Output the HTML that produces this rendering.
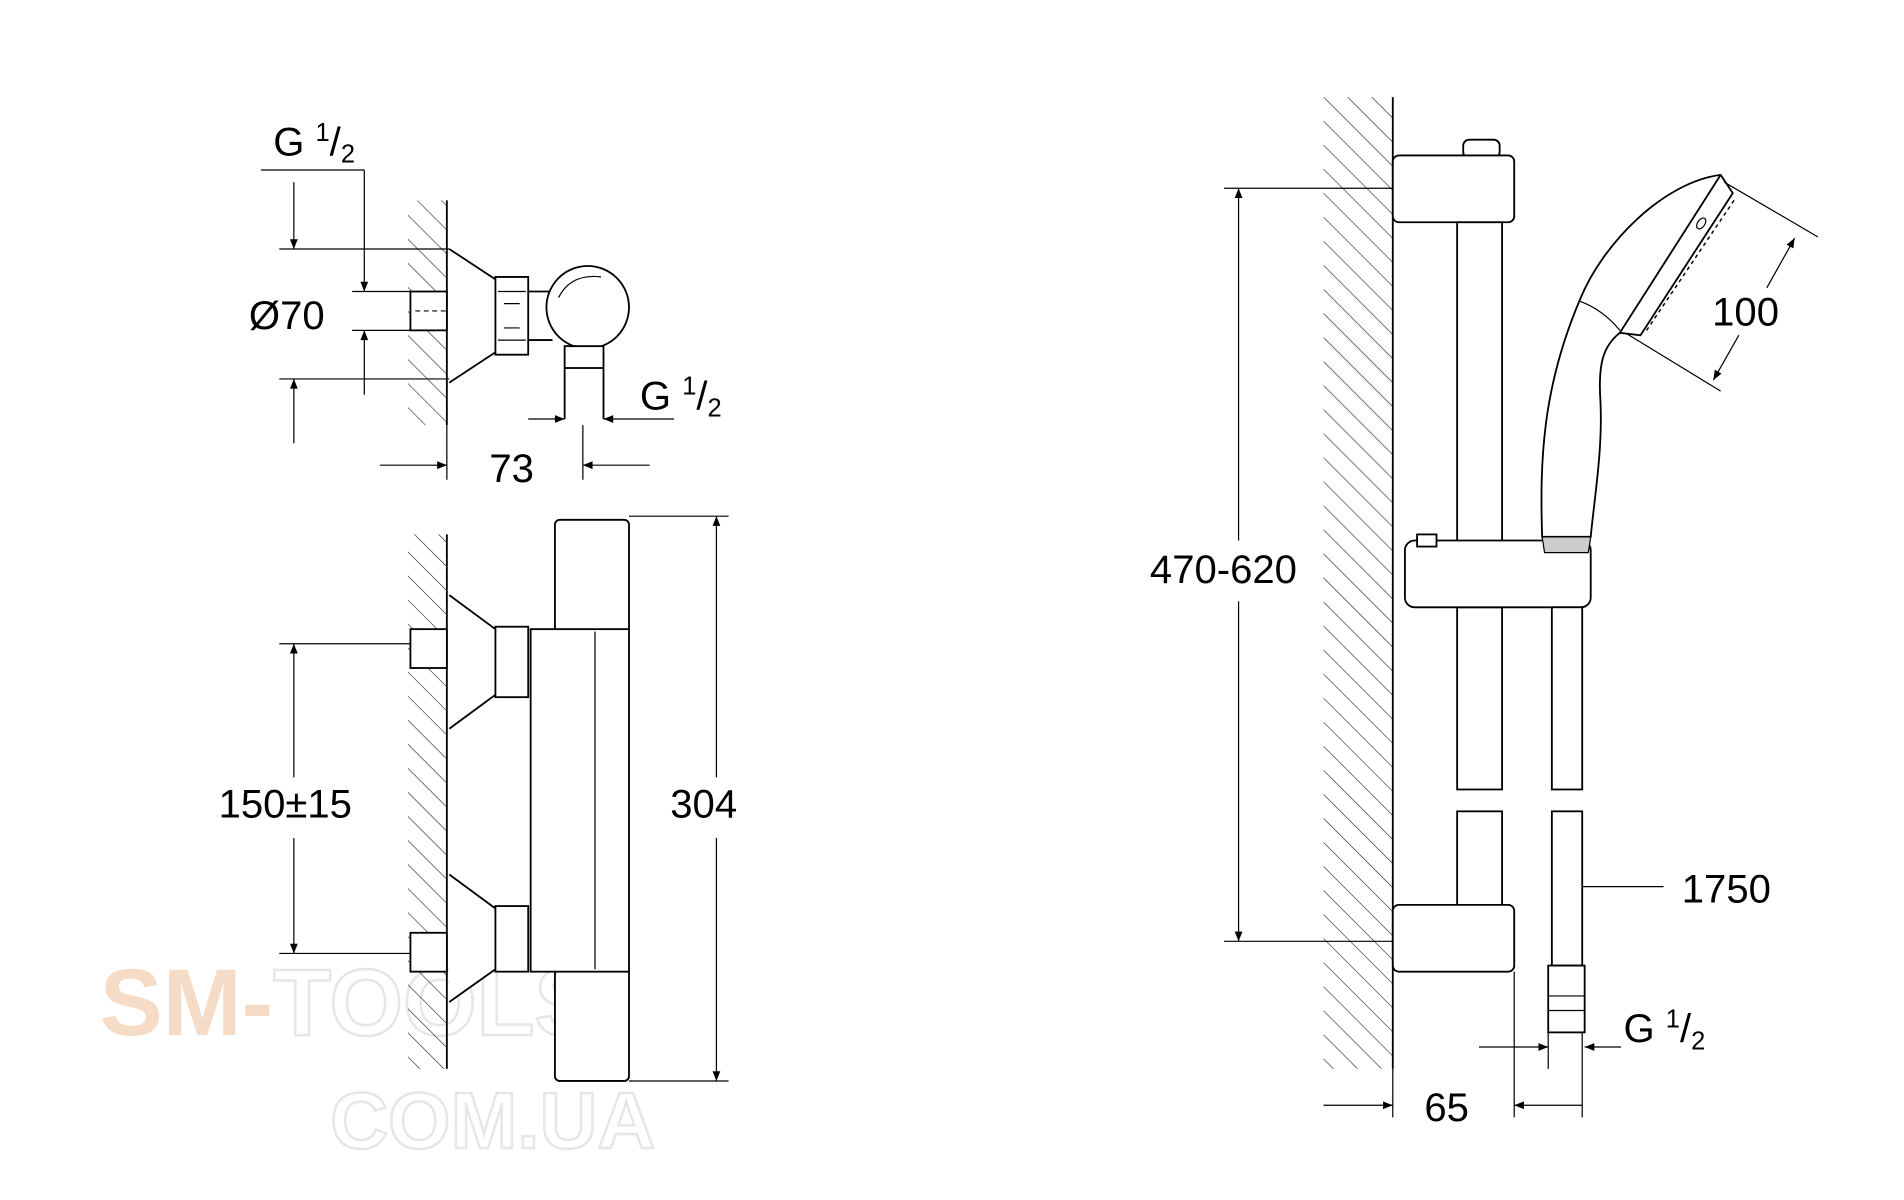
<!DOCTYPE html>
<html><head><meta charset="utf-8"><style>html,body{margin:0;padding:0;background:#fff;}svg{display:block}</style></head>
<body>
<svg width="1904" height="1200" viewBox="0 0 1568 988" preserveAspectRatio="none" xmlns="http://www.w3.org/2000/svg" font-family="Liberation Sans, sans-serif">
<defs>
<pattern id="h" width="14" height="14" patternUnits="userSpaceOnUse" patternTransform="rotate(-45)">
<line x1="0" y1="0" x2="0" y2="14" stroke="#222" stroke-width="1"/>
</pattern>
<marker id="a" viewBox="0 0 10 10" refX="10" refY="5" markerWidth="12" markerHeight="8" orient="auto-start-reverse" markerUnits="userSpaceOnUse"><path d="M0,1 L10,5 L0,9 z" fill="#000"/></marker>
</defs>
<rect width="1568" height="988" fill="#fff"/>
<!-- watermark -->
<text x="82" y="852" font-size="78" font-weight="bold" fill="#f6dcc6">SM-</text>
<text x="225" y="852" font-size="78" font-weight="bold" fill="none" stroke="#e6e6e6" stroke-width="2">TOOLS</text>
<text x="272" y="945" font-size="66" font-weight="bold" fill="none" stroke="#e6e6e6" stroke-width="2">COM.UA</text>

<g stroke="#000" stroke-width="1.5" fill="none">
<!-- LEFT TOP -->
<rect x="336" y="165" width="32" height="185" fill="url(#h)" stroke="none"/>
<line x1="368" y1="165" x2="368" y2="350"/>
<path d="M370,205 L408,230 L408,290 L370,315" fill="#fff"/>
<path d="M408,228 L435,228 L435,292 L408,292 Z" fill="#fff"/>
<path d="M410,240 L433,240 M410,280 L433,280 M415,250 L428,250 M415,270 L428,270" stroke-width="1"/>
<path d="M435,240 L455,240 M435,280 L455,280"/>
<circle cx="484" cy="253" r="34" fill="#fff"/>
<path d="M460,245 Q470,225 495,228" stroke-width="1"/>
<rect x="465" y="285" width="32" height="18" fill="#fff"/>
<line x1="465" y1="303" x2="465" y2="345"/><line x1="497" y1="303" x2="497" y2="345"/>
<rect x="338" y="240" width="30" height="32" fill="#fff"/>
<line x1="342" y1="256" x2="368" y2="256" stroke-dasharray="4,3" stroke-width="1"/>
<line x1="230" y1="205" x2="370" y2="205" stroke-width="1"/>
<line x1="230" y1="312" x2="370" y2="312" stroke-width="1"/>
<line x1="242" y1="150" x2="242" y2="205" marker-end="url(#a)" stroke-width="1"/>
<line x1="242" y1="365" x2="242" y2="312" marker-end="url(#a)" stroke-width="1"/>
<line x1="215" y1="140" x2="300" y2="140" stroke-width="1"/>
<line x1="300" y1="140" x2="300" y2="240" marker-end="url(#a)" stroke-width="1"/>
<line x1="300" y1="325" x2="300" y2="272" marker-end="url(#a)" stroke-width="1"/>
<line x1="290" y1="240" x2="338" y2="240" stroke-width="1"/>
<line x1="290" y1="272" x2="338" y2="272" stroke-width="1"/>
<line x1="368" y1="350" x2="368" y2="395" stroke-width="1"/>
<line x1="480" y1="350" x2="480" y2="395" stroke-width="1"/>
<line x1="313" y1="383" x2="368" y2="383" marker-end="url(#a)" stroke-width="1"/>
<line x1="535" y1="383" x2="480" y2="383" marker-end="url(#a)" stroke-width="1"/>
<line x1="435" y1="345" x2="465" y2="345" marker-end="url(#a)" stroke-width="1"/>
<line x1="555" y1="345" x2="497" y2="345" marker-end="url(#a)" stroke-width="1"/>

<!-- LEFT BOTTOM -->
<rect x="336" y="440" width="32" height="440" fill="url(#h)" stroke="none"/>
<line x1="368" y1="440" x2="368" y2="880"/>
<path d="M370,490 L408,518 L408,572 L370,600" fill="#fff"/>
<rect x="408" y="516" width="27" height="58" fill="#fff"/>
<path d="M370,720 L408,748 L408,798 L370,825" fill="#fff"/>
<rect x="408" y="746" width="27" height="54" fill="#fff"/>
<rect x="338" y="518" width="30" height="32" fill="#fff"/>
<rect x="338" y="768" width="30" height="32" fill="#fff"/>
<rect x="457" y="428" width="61" height="92" rx="4" fill="#fff"/>
<rect x="457" y="798" width="61" height="92" rx="4" fill="#fff"/>
<rect x="437" y="518" width="81" height="282" fill="#fff"/>
<line x1="490" y1="520" x2="490" y2="798" stroke-width="1"/>
<line x1="230" y1="530" x2="338" y2="530" stroke-width="1"/>
<line x1="230" y1="785" x2="338" y2="785" stroke-width="1"/>
<line x1="242" y1="640" x2="242" y2="530" marker-end="url(#a)" stroke-width="1"/>
<line x1="242" y1="690" x2="242" y2="785" marker-end="url(#a)" stroke-width="1"/>
<line x1="518" y1="425" x2="600" y2="425" stroke-width="1"/>
<line x1="518" y1="890" x2="600" y2="890" stroke-width="1"/>
<line x1="590" y1="640" x2="590" y2="425" marker-end="url(#a)" stroke-width="1"/>
<line x1="590" y1="690" x2="590" y2="890" marker-end="url(#a)" stroke-width="1"/>

<!-- RIGHT -->
<rect x="1090" y="80" width="57" height="800" fill="url(#h)" stroke="none"/>
<line x1="1147" y1="80" x2="1147" y2="880"/>
<rect x="1205" y="115" width="30" height="15" rx="5" fill="#fff"/>
<rect x="1147" y="128" width="100" height="55" rx="5" fill="#fff"/>
<rect x="1200" y="183" width="37" height="270" fill="#fff"/>
<rect x="1200" y="500" width="37" height="150" fill="#fff"/>
<rect x="1200" y="668" width="37" height="80" fill="#fff"/>
<rect x="1147" y="745" width="100" height="55" rx="5" fill="#fff"/>
<rect x="1157" y="445" width="153" height="55" rx="8" fill="#fff"/>
<rect x="1167" y="440" width="16" height="10" fill="#fff"/>
<rect x="1278" y="500" width="25" height="150" fill="#fff"/>
<rect x="1278" y="668" width="25" height="127" fill="#fff"/>
<rect x="1275" y="795" width="30" height="55" fill="#fff"/>
<path d="M1275,820 L1305,820 M1275,832 L1305,832" stroke-width="1"/>
<!-- hand shower -->
<path d="M1270,442 C1268,380 1270,320 1301,247 C1320,200 1370,150 1417,144 L1427,159 L1351,276 L1334,274 C1320,285 1316,300 1318,330 C1320,370 1313,410 1310,442 Z" fill="#fff"/>
<path d="M1417,144 L1334,274"/>
<path d="M1301,248 Q1320,255 1334,272" stroke-width="1"/>
<ellipse cx="1401" cy="184" rx="3" ry="5" transform="rotate(35 1401 184)" stroke-width="1"/>
<path d="M1428,165 L1356,272" stroke-width="1.2" stroke-dasharray="3,3"/>
<path d="M1270,442 L1310,442 L1308,455 L1272,455 Z" fill="#ccc" stroke-width="1"/>
<line x1="1008" y1="155" x2="1147" y2="155" stroke-width="1"/>
<line x1="1008" y1="775" x2="1147" y2="775" stroke-width="1"/>
<line x1="1020" y1="445" x2="1020" y2="155" marker-end="url(#a)" stroke-width="1"/>
<line x1="1020" y1="495" x2="1020" y2="775" marker-end="url(#a)" stroke-width="1"/>
<line x1="1420" y1="150" x2="1497" y2="195" stroke-width="1"/>
<line x1="1340" y1="275" x2="1417" y2="322" stroke-width="1"/>
<line x1="1455" y1="237" x2="1478" y2="196" marker-end="url(#a)" stroke-width="1"/>
<line x1="1432" y1="276" x2="1411" y2="313" marker-end="url(#a)" stroke-width="1"/>
<line x1="1303" y1="730" x2="1370" y2="730" stroke-width="1"/>
<line x1="1247" y1="800" x2="1247" y2="920" stroke-width="1"/>
<line x1="1147" y1="880" x2="1147" y2="920" stroke-width="1"/>
<line x1="1275" y1="850" x2="1275" y2="880" stroke-width="1"/>
<line x1="1303" y1="850" x2="1303" y2="920" stroke-width="1"/>
<line x1="1218" y1="862" x2="1275" y2="862" marker-end="url(#a)" stroke-width="1"/>
<line x1="1335" y1="862" x2="1305" y2="862" marker-end="url(#a)" stroke-width="1"/>
<line x1="1090" y1="910" x2="1147" y2="910" marker-end="url(#a)" stroke-width="1"/>
<line x1="1303" y1="910" x2="1247" y2="910" marker-end="url(#a)" stroke-width="1"/>
</g>

<g fill="#000" font-size="33">
<text x="225" y="128">G <tspan font-size="21" dy="-12">1</tspan><tspan dy="12">/</tspan><tspan font-size="21" dy="6">2</tspan></text>
<text x="205" y="271">Ø70</text>
<text x="403" y="397">73</text>
<text x="527" y="337">G <tspan font-size="21" dy="-12">1</tspan><tspan dy="12">/</tspan><tspan font-size="21" dy="6">2</tspan></text>
<text x="180" y="673">150±15</text>
<text x="552" y="673">304</text>
<text x="947" y="480">470-620</text>
<text x="1410" y="268">100</text>
<text x="1385" y="743">1750</text>
<text x="1337" y="858">G <tspan font-size="21" dy="-12">1</tspan><tspan dy="12">/</tspan><tspan font-size="21" dy="6">2</tspan></text>
<text x="1173" y="923">65</text>
</g>
</svg>
</body></html>
